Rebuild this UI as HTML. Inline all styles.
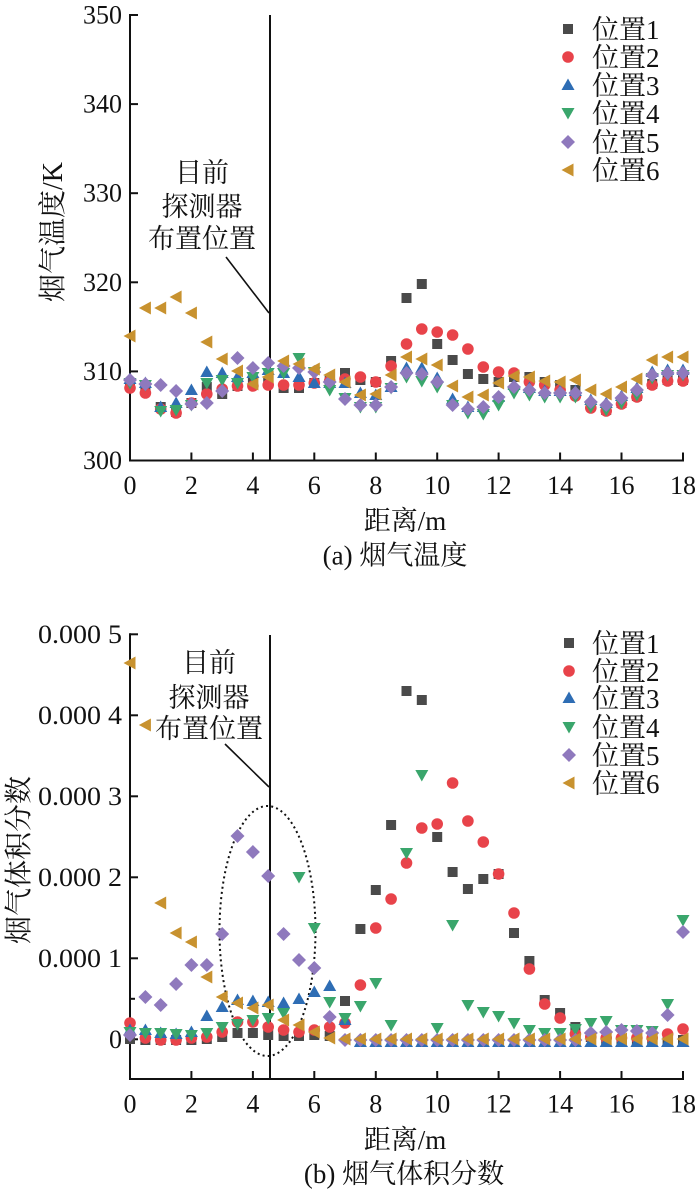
<!DOCTYPE html>
<html><head><meta charset="utf-8"><style>
html,body{margin:0;padding:0;background:#fff;}
svg{display:block;}
text{font-family:"Liberation Serif","Noto Serif CJK SC","Noto Sans CJK SC",serif;fill:#111;}
.t{font-size:26px;}
.c{font-size:27px;}
</style></head><body>
<svg width="700" height="1189" viewBox="0 0 700 1189" xmlns="http://www.w3.org/2000/svg">
<defs>
<marker id="m1" markerWidth="20" markerHeight="20" refX="10" refY="10" markerUnits="userSpaceOnUse" orient="0" overflow="visible"><rect x="5" y="5" width="10" height="10" fill="#4a4a4a"/></marker>
<marker id="m2" markerWidth="20" markerHeight="20" refX="10" refY="10" markerUnits="userSpaceOnUse" orient="0" overflow="visible"><circle cx="10" cy="10" r="5.8" fill="#e8434a"/></marker>
<marker id="m3" markerWidth="20" markerHeight="20" refX="10" refY="10" markerUnits="userSpaceOnUse" orient="0" overflow="visible"><polygon points="10,3.5 16.5,15 3.5,15" fill="#2e6db4"/></marker>
<marker id="m4" markerWidth="20" markerHeight="20" refX="10" refY="10" markerUnits="userSpaceOnUse" orient="0" overflow="visible"><polygon points="3.5,5 16.5,5 10,16.5" fill="#3aa66c"/></marker>
<marker id="m5" markerWidth="20" markerHeight="20" refX="10" refY="10" markerUnits="userSpaceOnUse" orient="0" overflow="visible"><polygon points="10,3 17,10 10,17 3,10" fill="#8f79bd"/></marker>
<marker id="m6" markerWidth="20" markerHeight="20" refX="10" refY="10" markerUnits="userSpaceOnUse" orient="0" overflow="visible"><polygon points="3.5,10 15.5,3.5 15.5,16.5" fill="#c8922f"/></marker>
</defs>

<!-- ================= TOP CHART ================= -->
<g stroke="#111" stroke-width="2" fill="none">
<line x1="130" y1="14" x2="130" y2="461.5"/>
<line x1="129" y1="460.5" x2="684" y2="460.5"/>
<line x1="270" y1="15" x2="270" y2="460.5"/>
<line x1="130" y1="15" x2="138" y2="15"/>
<line x1="130" y1="104.1" x2="138" y2="104.1"/>
<line x1="130" y1="193.2" x2="138" y2="193.2"/>
<line x1="130" y1="282.3" x2="138" y2="282.3"/>
<line x1="130" y1="371.4" x2="138" y2="371.4"/>
<line x1="191.4" y1="460.5" x2="191.4" y2="452.5"/>
<line x1="252.9" y1="460.5" x2="252.9" y2="452.5"/>
<line x1="314.3" y1="460.5" x2="314.3" y2="452.5"/>
<line x1="375.8" y1="460.5" x2="375.8" y2="452.5"/>
<line x1="437.2" y1="460.5" x2="437.2" y2="452.5"/>
<line x1="498.6" y1="460.5" x2="498.6" y2="452.5"/>
<line x1="560.1" y1="460.5" x2="560.1" y2="452.5"/>
<line x1="621.5" y1="460.5" x2="621.5" y2="452.5"/>
<line x1="683" y1="460.5" x2="683" y2="452.5"/>
<line x1="226" y1="257" x2="269" y2="313" stroke-width="1.6"/>
</g>
<g class="t" text-anchor="end">
<text x="122" y="23.5">350</text>
<text x="122" y="112.6">340</text>
<text x="122" y="201.7">330</text>
<text x="122" y="290.8">320</text>
<text x="122" y="379.9">310</text>
<text x="122" y="469">300</text>
</g>
<g class="t" text-anchor="middle">
<text x="130" y="494">0</text>
<text x="191.4" y="494">2</text>
<text x="252.9" y="494">4</text>
<text x="314.3" y="494">6</text>
<text x="375.8" y="494">8</text>
<text x="437.2" y="494">10</text>
<text x="498.6" y="494">12</text>
<text x="560.1" y="494">14</text>
<text x="621.5" y="494">16</text>
<text x="683" y="494">18</text>
</g>
<text class="c" x="405" y="530" text-anchor="middle">距离/m</text>
<text class="c" x="395" y="564.5" text-anchor="middle">(a) 烟气温度</text>
<text class="c" transform="translate(52,232) rotate(-90)" x="0" y="10" text-anchor="middle" style="font-size:28px">烟气温度/K</text>
<g class="c" text-anchor="middle">
<text x="202" y="182">目前</text>
<text x="202" y="216">探测器</text>
<text x="202" y="248">布置位置</text>
</g>
<!-- legend top -->
<g class="c">
<text x="592" y="39">位置1</text>
<text x="592" y="67">位置2</text>
<text x="592" y="95">位置3</text>
<text x="592" y="123">位置4</text>
<text x="592" y="152">位置5</text>
<text x="592" y="180">位置6</text>
</g>
<g fill="none" stroke="none">
<polyline points="568,29 568,29" marker-start="url(#m1)"/>
<polyline points="568,57 568,57" marker-start="url(#m2)"/>
<polyline points="568,85 568,85" marker-start="url(#m3)"/>
<polyline points="568,113 568,113" marker-start="url(#m4)"/>
<polyline points="568,142 568,142" marker-start="url(#m5)"/>
<polyline points="568,170 568,170" marker-start="url(#m6)"/>
</g>
<!-- top series -->
<g fill="none" stroke="none">
<polyline marker-start="url(#m1)" marker-mid="url(#m1)" marker-end="url(#m1)" points="130,386 145.4,390 160.7,407 176.1,412 191.4,403 206.8,387 222.2,394 237.5,386 252.9,383 268.2,383 283.6,388 299,388 314.3,383 329.7,381 345,373 360.4,380 375.8,382 391.1,361 406.5,298 421.8,284 437.2,344 452.6,360 467.9,374 483.3,379 498.6,382 514,377 529.4,377 544.7,382 560.1,385 575.4,390 590.8,405 606.2,410 621.5,403 636.9,396 652.2,384 667.6,380 683,380"/>
<polyline marker-start="url(#m2)" marker-mid="url(#m2)" marker-end="url(#m2)" points="130,388 145.4,393 160.7,409 176.1,413 191.4,403 206.8,394 222.2,389 237.5,386 252.9,386 268.2,385 283.6,385 299,385 314.3,383 329.7,381 345,379 360.4,377 375.8,382 391.1,366 406.5,344 421.8,329 437.2,332 452.6,335 467.9,349 483.3,367 498.6,372 514,373 529.4,382 544.7,385 560.1,390 575.4,396 590.8,408 606.2,411 621.5,404 636.9,397 652.2,385 667.6,381 683,381"/>
<polyline marker-start="url(#m3)" marker-mid="url(#m3)" marker-end="url(#m3)" points="130,379 145.4,383 160.7,407 176.1,403 191.4,390 206.8,372 222.2,373 237.5,377 252.9,373 268.2,370 283.6,373 299,377 314.3,383 329.7,383 345,383 360.4,393 375.8,395 391.1,387 406.5,368 421.8,368 437.2,378 452.6,399 467.9,407 483.3,407 498.6,397 514,385 529.4,388 544.7,391 560.1,391 575.4,391 590.8,400 606.2,403 621.5,396 636.9,388 652.2,372 667.6,370 683,370"/>
<polyline marker-start="url(#m4)" marker-mid="url(#m4)" marker-end="url(#m4)" points="130,383 145.4,385 160.7,411 176.1,410 191.4,405 206.8,383 222.2,380 237.5,383 252.9,377 268.2,373 283.6,373 299,358 314.3,372 329.7,390 345,398 360.4,407 375.8,407 391.1,388 406.5,377 421.8,381 437.2,387 452.6,405 467.9,413 483.3,414 498.6,405 514,393 529.4,395 544.7,397 560.1,397 575.4,397 590.8,407 606.2,410 621.5,403 636.9,395 652.2,378 667.6,375 683,375"/>
<polyline marker-start="url(#m5)" marker-mid="url(#m5)" marker-end="url(#m5)" points="130,380 145.4,384 160.7,385 176.1,391 191.4,404 206.8,403 222.2,391 237.5,358 252.9,368 268.2,363 283.6,366 299,368 314.3,372 329.7,382 345,399 360.4,405 375.8,405 391.1,387 406.5,373 421.8,374 437.2,382 452.6,405 467.9,409 483.3,407 498.6,397 514,387 529.4,390 544.7,393 560.1,393 575.4,393 590.8,402 606.2,405 621.5,398 636.9,390 652.2,375 667.6,373 683,373"/>
<polyline marker-start="url(#m6)" marker-mid="url(#m6)" marker-end="url(#m6)" points="130,336 145.4,308 160.7,308 176.1,297 191.4,313 206.8,342 222.2,359 237.5,371 252.9,384 268.2,377 283.6,361 299,364 314.3,369 329.7,375 345,382 360.4,395 375.8,394 391.1,375 406.5,357 421.8,359 437.2,365 452.6,386 467.9,397 483.3,395 498.6,383 514,376 529.4,377 544.7,381 560.1,382 575.4,380 590.8,390 606.2,394 621.5,387 636.9,379 652.2,360 667.6,357 683,357"/>
</g>

<!-- ================= BOTTOM CHART ================= -->
<g stroke="#111" stroke-width="2" fill="none">
<line x1="130" y1="633.3" x2="130" y2="1080"/>
<line x1="129" y1="1079" x2="684" y2="1079"/>
<line x1="270" y1="635" x2="270" y2="1079"/>
<line x1="130" y1="634.3" x2="138" y2="634.3"/>
<line x1="130" y1="715.3" x2="138" y2="715.3"/>
<line x1="130" y1="796.3" x2="138" y2="796.3"/>
<line x1="130" y1="877.3" x2="138" y2="877.3"/>
<line x1="130" y1="958.3" x2="138" y2="958.3"/>
<line x1="130" y1="998.8" x2="135" y2="998.8"/>
<line x1="130" y1="1039.3" x2="138" y2="1039.3"/>
<line x1="191.4" y1="1079" x2="191.4" y2="1071"/>
<line x1="252.9" y1="1079" x2="252.9" y2="1071"/>
<line x1="314.3" y1="1079" x2="314.3" y2="1071"/>
<line x1="375.8" y1="1079" x2="375.8" y2="1071"/>
<line x1="437.2" y1="1079" x2="437.2" y2="1071"/>
<line x1="498.6" y1="1079" x2="498.6" y2="1071"/>
<line x1="560.1" y1="1079" x2="560.1" y2="1071"/>
<line x1="621.5" y1="1079" x2="621.5" y2="1071"/>
<line x1="683" y1="1079" x2="683" y2="1071"/>
<line x1="225" y1="744" x2="269" y2="787" stroke-width="1.6"/>
<ellipse cx="267.5" cy="931" rx="48" ry="125" stroke-width="2" stroke-dasharray="2 3.2"/>
</g>
<g class="t" text-anchor="end">
<text x="122" y="643" textLength="84" lengthAdjust="spacingAndGlyphs">0.000 5</text>
<text x="122" y="724" textLength="84" lengthAdjust="spacingAndGlyphs">0.000 4</text>
<text x="122" y="805" textLength="84" lengthAdjust="spacingAndGlyphs">0.000 3</text>
<text x="122" y="886" textLength="84" lengthAdjust="spacingAndGlyphs">0.000 2</text>
<text x="122" y="967" textLength="84" lengthAdjust="spacingAndGlyphs">0.000 1</text>
<text x="122" y="1048">0</text>
</g>
<g class="t" text-anchor="middle">
<text x="130" y="1112.5">0</text>
<text x="191.4" y="1112.5">2</text>
<text x="252.9" y="1112.5">4</text>
<text x="314.3" y="1112.5">6</text>
<text x="375.8" y="1112.5">8</text>
<text x="437.2" y="1112.5">10</text>
<text x="498.6" y="1112.5">12</text>
<text x="560.1" y="1112.5">14</text>
<text x="621.5" y="1112.5">16</text>
<text x="683" y="1112.5">18</text>
</g>
<text class="c" x="405" y="1149" text-anchor="middle">距离/m</text>
<text class="c" x="404" y="1183" text-anchor="middle">(b) 烟气体积分数</text>
<text class="c" transform="translate(18,860) rotate(-90)" x="0" y="10" text-anchor="middle" style="font-size:28px">烟气体积分数</text>
<g class="c" text-anchor="middle">
<text x="209" y="672">目前</text>
<text x="209" y="707">探测器</text>
<text x="209" y="738">布置位置</text>
</g>
<!-- legend bottom -->
<g class="c">
<text x="592" y="653">位置1</text>
<text x="592" y="681">位置2</text>
<text x="592" y="708">位置3</text>
<text x="592" y="737">位置4</text>
<text x="592" y="765">位置5</text>
<text x="592" y="793">位置6</text>
</g>
<g fill="none" stroke="none">
<polyline points="569,643 569,643" marker-start="url(#m1)"/>
<polyline points="569,671 569,671" marker-start="url(#m2)"/>
<polyline points="569,698 569,698" marker-start="url(#m3)"/>
<polyline points="569,727 569,727" marker-start="url(#m4)"/>
<polyline points="569,755 569,755" marker-start="url(#m5)"/>
<polyline points="569,783 569,783" marker-start="url(#m6)"/>
</g>
<!-- bottom series -->
<g fill="none" stroke="none">
<polyline marker-start="url(#m1)" marker-mid="url(#m1)" marker-end="url(#m1)" points="130,1039 145.4,1040 160.7,1040 176.1,1040 191.4,1040 206.8,1039 222.2,1037 237.5,1033 252.9,1033 268.2,1035 283.6,1036 299,1036 314.3,1035 329.7,1036 345,1001 360.4,929 375.8,890 391.1,825 406.5,691 421.8,700 437.2,837 452.6,872 467.9,889 483.3,879 498.6,874 514,933 529.4,961 544.7,1000 560.1,1013 575.4,1027 590.8,1037 606.2,1040 621.5,1040 636.9,1040 652.2,1040 667.6,1040 683,1040"/>
<polyline marker-start="url(#m2)" marker-mid="url(#m2)" marker-end="url(#m2)" points="130,1023 145.4,1038 160.7,1040 176.1,1040 191.4,1038 206.8,1037 222.2,1032 237.5,1022 252.9,1022 268.2,1027 283.6,1030 299,1032 314.3,1030 329.7,1027 345,1023 360.4,985 375.8,928 391.1,899 406.5,863 421.8,828 437.2,824 452.6,783 467.9,821 483.3,842 498.6,874 514,913 529.4,969 544.7,1004 560.1,1018 575.4,1034 590.8,1037 606.2,1038 621.5,1038 636.9,1038 652.2,1038 667.6,1034 683,1029"/>
<polyline marker-start="url(#m3)" marker-mid="url(#m3)" marker-end="url(#m3)" points="130,1030 145.4,1030 160.7,1033 176.1,1034 191.4,1032 206.8,1016 222.2,1007 237.5,1000 252.9,1001 268.2,1002 283.6,1003 299,999 314.3,992 329.7,986 345,1020 360.4,1042 375.8,1042 391.1,1042 406.5,1042 421.8,1042 437.2,1042 452.6,1042 467.9,1042 483.3,1042 498.6,1042 514,1042 529.4,1042 544.7,1042 560.1,1042 575.4,1042 590.8,1042 606.2,1042 621.5,1042 636.9,1042 652.2,1042 667.6,1042 683,1042"/>
<polyline marker-start="url(#m4)" marker-mid="url(#m4)" marker-end="url(#m4)" points="130,1032 145.4,1033 160.7,1033 176.1,1034 191.4,1035 206.8,1033 222.2,1027 237.5,1024 252.9,1020 268.2,1018 283.6,1013 299,877 314.3,928 329.7,1002 345,1018 360.4,1006 375.8,983 391.1,1025 406.5,853 421.8,775 437.2,1028 452.6,925 467.9,1005 483.3,1012 498.6,1016 514,1023 529.4,1030 544.7,1033 560.1,1033 575.4,1029 590.8,1023 606.2,1021 621.5,1030 636.9,1030 652.2,1031 667.6,1004 683,920"/>
<polyline marker-start="url(#m5)" marker-mid="url(#m5)" marker-end="url(#m5)" points="130,1035 145.4,997 160.7,1005 176.1,984 191.4,965 206.8,965 222.2,934 237.5,836 252.9,852 268.2,876 283.6,934 299,960 314.3,968 329.7,1017 345,1040 360.4,1040 375.8,1040 391.1,1040 406.5,1040 421.8,1040 437.2,1040 452.6,1040 467.9,1040 483.3,1040 498.6,1040 514,1040 529.4,1040 544.7,1040 560.1,1040 575.4,1040 590.8,1033 606.2,1032 621.5,1030 636.9,1031 652.2,1033 667.6,1015 683,932"/>
<polyline marker-start="url(#m6)" marker-mid="url(#m6)" marker-end="url(#m6)" points="130,663 145.4,725 160.7,903 176.1,933 191.4,942 206.8,977 222.2,997 237.5,1003 252.9,1008 268.2,1005 283.6,1020 299,1025 314.3,1032 329.7,1038 345,1039 360.4,1039 375.8,1039 391.1,1039 406.5,1039 421.8,1039 437.2,1039 452.6,1039 467.9,1039 483.3,1039 498.6,1039 514,1039 529.4,1039 544.7,1039 560.1,1039 575.4,1039 590.8,1039 606.2,1039 621.5,1039 636.9,1039 652.2,1039 667.6,1039 683,1039"/>
</g>
</svg>
</body></html>
